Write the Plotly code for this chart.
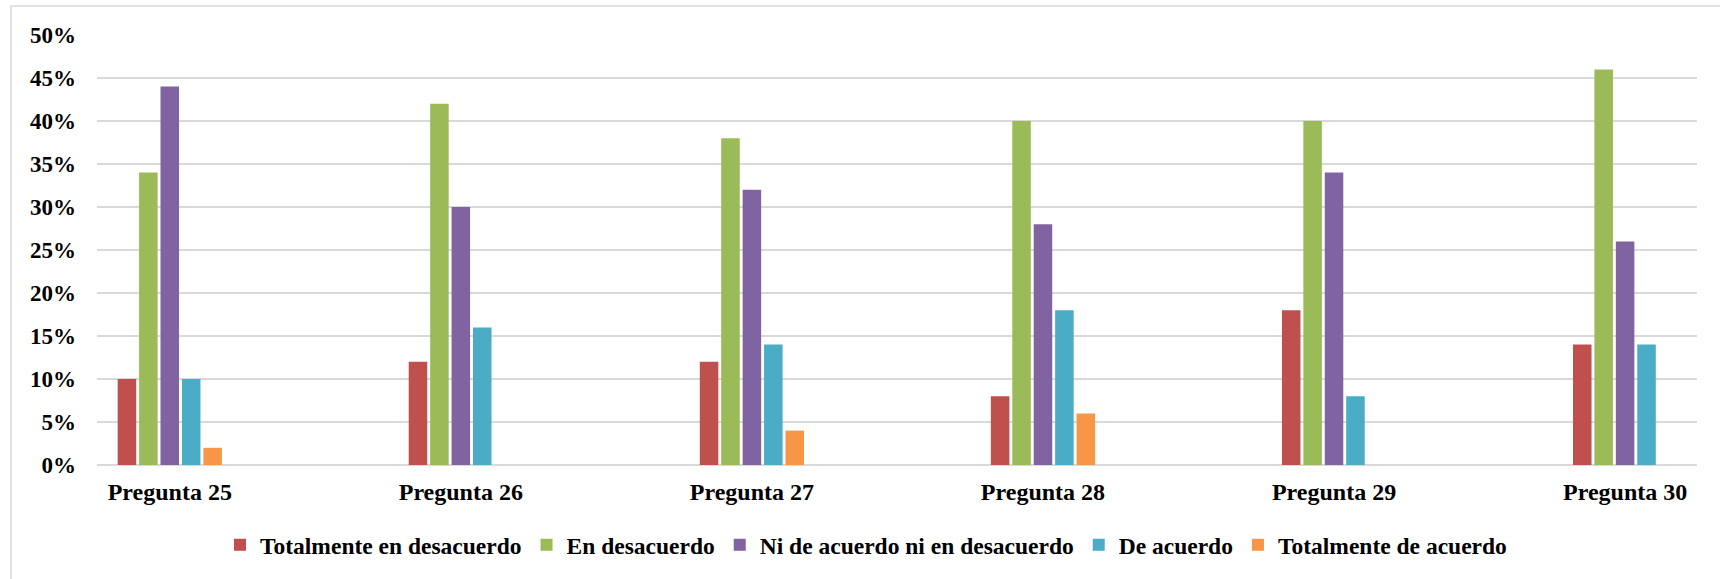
import plotly.graph_objects as go

categories = ["Pregunta 25", "Pregunta 26", "Pregunta 27", "Pregunta 28", "Pregunta 29", "Pregunta 30"]
series_names = ["Totalmente en desacuerdo", "En desacuerdo", "Ni de acuerdo ni en desacuerdo",
                "De acuerdo", "Totalmente de acuerdo"]
totalmente_desacuerdo = [0.10, 0.12, 0.12, 0.08, 0.18, 0.14]
en_desacuerdo = [0.34, 0.42, 0.38, 0.40, 0.40, 0.46]
ni_ni = [0.44, 0.30, 0.32, 0.28, 0.34, 0.26]
de_acuerdo = [0.10, 0.16, 0.14, 0.18, 0.08, 0.14]
totalmente_acuerdo = [0.02, 0, 0.04, 0.06, 0, 0]
colors = ["#C0504D", "#9BBB59", "#8064A2", "#4BACC6", "#F79646"]
y_ticks = [0, 0.05, 0.10, 0.15, 0.20, 0.25, 0.30, 0.35, 0.40, 0.45, 0.50]

values = [totalmente_desacuerdo, en_desacuerdo, ni_ni, de_acuerdo, totalmente_acuerdo]

FONT = "Liberation Serif"

fig = go.Figure()
for name, vals, col in zip(series_names, values, colors):
    fig.add_trace(go.Bar(
        x=categories, y=vals, name=name,
        marker=dict(color=col, line=dict(width=0)),
        hoverinfo="x+y+name",
    ))

# plot area: x 97..1697, y 35..465
L, R, T, B = 97, 23, 35, 114
W, H = 1720, 579
pw, ph = W - L - R, H - T - B

def px_x(p):
    return (p - L) / pw

def px_y(p):
    return (H - B - p) / ph

fig.update_layout(
    width=W, height=H,
    margin=dict(l=L, r=R, t=T, b=B, pad=0),
    paper_bgcolor="white",
    plot_bgcolor="white",
    barmode="group",
    bargap=0.632,
    bargroupgap=0.135,
    font=dict(family=FONT, color="black", weight="bold"),
    showlegend=True,
    legend=dict(
        orientation="h",
        x=px_x(866), xanchor="center",
        y=px_y(545), yanchor="middle",
        font=dict(family=FONT, size=23.5, color="black", weight="bold"),
        itemwidth=30,
        tracegroupgap=0,
        bgcolor="rgba(0,0,0,0)",
    ),
    xaxis=dict(
        type="category",
        range=[-0.25, 5.247],
        showgrid=False,
        showline=False,
        zeroline=False,
        ticks="",
        tickfont=dict(family=FONT, size=24, color="black", weight="bold"),
        ticklabelstandoff=10,
        fixedrange=True,
    ),
    yaxis=dict(
        range=[0, 0.5],
        tickvals=y_ticks,
        tickformat=".0%",
        showgrid=True,
        gridcolor="#D9D9D9",
        gridwidth=2,
        zeroline=True,
        zerolinecolor="#D9D9D9",
        zerolinewidth=2,
        showline=False,
        ticks="",
        tickfont=dict(family=FONT, size=23, color="black", weight="bold"),
        ticklabelstandoff=20,
        fixedrange=True,
    ),
    shapes=[dict(
        type="rect", xref="paper", yref="paper",
        x0=px_x(11), x1=px_x(1730), y0=px_y(590), y1=px_y(6),
        line=dict(color="#D9D9D9", width=1.5),
        fillcolor="rgba(0,0,0,0)", layer="below",
    )],
)

fig.write_html("out.html")
